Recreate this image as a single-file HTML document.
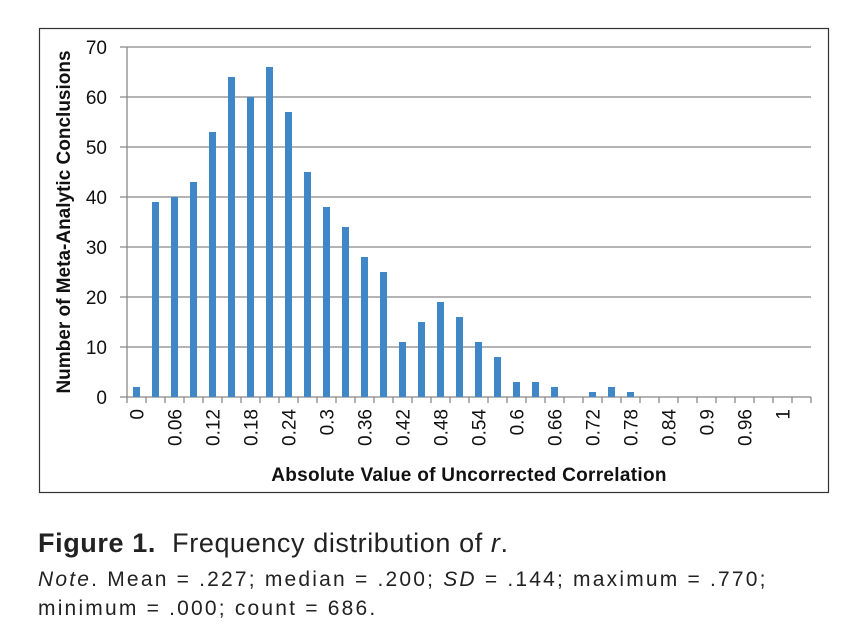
<!DOCTYPE html>
<html><head><meta charset="utf-8"><style>
body{margin:0;background:#fff;width:850px;height:639px;overflow:hidden;font-family:"Liberation Sans",sans-serif}
.cap{position:absolute;left:38px;color:#222;white-space:nowrap}
</style></head><body>
<svg width="850" height="520" style="position:absolute;left:0;top:0">
<rect x="39.5" y="28.5" width="789" height="464" fill="#fff" stroke="#333" stroke-width="1.2"/>
<g id="grid"></g><g id="bars"></g><g id="axes"></g>
<text transform="translate(70,222) rotate(-90)" text-anchor="middle" font-size="19" font-weight="bold" fill="#111">Number of Meta-Analytic Conclusions</text>
<text x="469" y="481" text-anchor="middle" font-size="19" font-weight="bold" fill="#111" letter-spacing="0.3">Absolute Value of Uncorrected Correlation</text>
</svg>
<div class="cap" style="top:528px;font-size:27px;letter-spacing:0.6px"><b>Figure 1.</b>&nbsp; Frequency distribution of <i>r</i>.</div>
<div class="cap" style="top:565px;font-size:21px;line-height:29px;letter-spacing:2.2px"><i>Note</i>. Mean = .227; median = .200; <i>SD</i> = .144; maximum = .770;<br>minimum = .000; count = 686.</div>
<script>
const values=[2,39,40,43,53,64,60,66,57,45,38,34,28,25,11,15,19,16,11,8,3,3,2,0,1,2,1,0,0,0,0,0,0,0,0,0];
const xLabels=["0","","0.06","","0.12","","0.18","","0.24","","0.3","","0.36","","0.42","","0.48","","0.54","","0.6","","0.66","","0.72","","0.78","","0.84","","0.9","","0.96","","1",""];
const yTicks=[0,10,20,30,40,50,60,70];
const NS="http://www.w3.org/2000/svg";
const x0=127,slot=19,yBase=397,yScale=5;
const X=i=>x0+i*slot, Y=v=>yBase-v*yScale;
function mk(t,a,p){const e=document.createElementNS(NS,t);for(const k in a)e.setAttribute(k,a[k]);p.appendChild(e);return e;}
const grid=document.getElementById('grid'),bars=document.getElementById('bars'),axes=document.getElementById('axes');
const xEnd=X(values.length);
yTicks.forEach(v=>{
 const l=mk('line',{x1:120,x2:xEnd,y1:Y(v),y2:Y(v),stroke:'#888','stroke-width':1.3},grid);
 
 
 const t=mk('text',{x:107,y:Y(v)+7,'text-anchor':'end','font-size':19,fill:'#111'},axes);t.textContent=v;
 
 
});
const ya=mk('line',{x1:x0,x2:x0,y1:Y(70),y2:Y(0),stroke:'#888','stroke-width':1.3},axes);


values.forEach((v,i)=>{
 const cx=X(i)+slot/2;
 if(v>0){const r=mk('rect',{x:cx-3.5,y:Y(v),width:7,height:v*yScale,fill:'#3f87c6'},bars);
 
 }
 const tk=mk('line',{x1:X(i+1),x2:X(i+1),y1:Y(0),y2:Y(0)+6,stroke:'#888','stroke-width':1.3},axes);
 
 
 if(xLabels[i]){const t=mk('text',{transform:`translate(${cx+7},${Y(0)+12}) rotate(-90)`,'text-anchor':'end','font-size':19,fill:'#111'},axes);t.textContent=xLabels[i];
 
 }
});
const t0=mk('line',{x1:x0,x2:x0,y1:Y(0),y2:Y(0)+6,stroke:'#888','stroke-width':1.3},axes);


</script>
</body></html>
